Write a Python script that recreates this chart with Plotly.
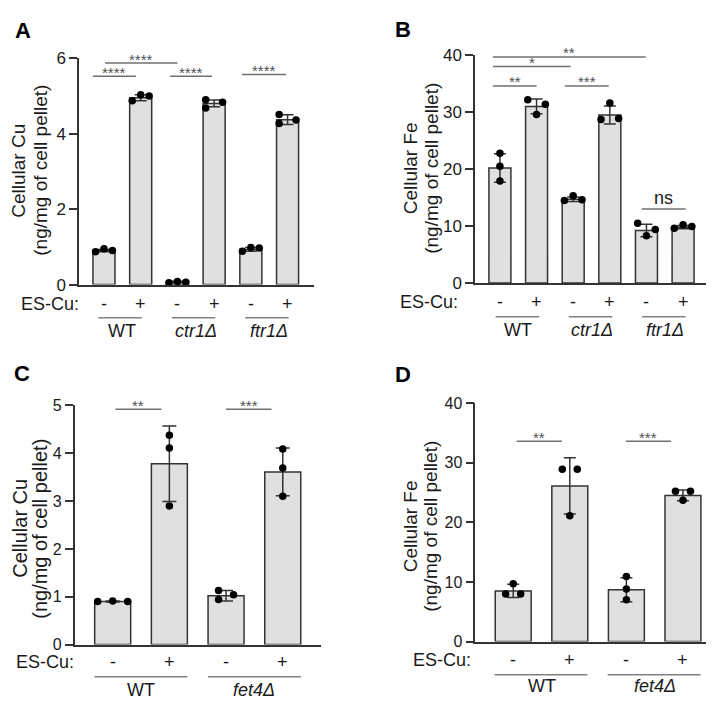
import plotly.graph_objects as go

# ---- data ----
groups_AB = ["WT", "ctr1Δ", "ftr1Δ"]
groups_CD = ["WT", "fet4Δ"]
es_cu = ["-", "+"]

A_means = [0.90, 4.95, 0.07, 4.80, 0.93, 4.37]
A_sd = [0.03, 0.08, 0.02, 0.09, 0.05, 0.13]
A_dots = [[0.87, 0.95, 0.90], [4.87, 5.03, 5.00], [0.05, 0.08, 0.06],
          [4.90, 4.68, 4.83], [0.88, 0.98, 0.97], [4.51, 4.27, 4.36]]

B_means = [20.2, 31.0, 14.7, 29.5, 9.2, 9.8]
B_sd = [2.5, 1.3, 0.4, 1.6, 1.1, 0.3]
B_dots = [[22.8, 20.5, 17.9], [32.2, 29.6, 31.4], [14.5, 15.3, 14.6],
          [31.6, 28.7, 28.9], [10.5, 8.3, 9.4], [9.6, 10.2, 9.9]]

C_means = [0.90, 3.78, 1.02, 3.61]
C_sd = [0.01, 0.79, 0.11, 0.50]
C_dots = [[0.90, 0.91, 0.90], [4.38, 4.11, 2.90], [1.13, 0.94, 1.04], [4.09, 3.69, 3.10]]

D_means = [8.5, 26.1, 8.7, 24.5]
D_sd = [1.1, 4.7, 2.0, 0.9]
D_dots = [[8.0, 9.7, 8.0], [28.9, 28.9, 21.1], [10.9, 8.8, 7.0], [25.2, 25.2, 23.7]]

# significance comparisons: (x from, x to, y, label)
A_sig = [(-0.30, 0.87, 5.52, "****"), (0.03, 2.0, 5.87, "****"),
         (1.80, 2.94, 5.52, "****"), (3.76, 4.96, 5.57, "****")]
B_sig = [(-0.19, 1.0, 34.6, "**"), (1.77, 2.97, 34.6, "***"),
         (-0.19, 1.93, 38.0, "*"), (-0.19, 3.98, 39.7, "**"),
         (3.87, 5.07, 13.0, "ns")]
C_sig = [(0.05, 0.86, 4.92, "**"), (2.0, 2.80, 4.92, "***")]
D_sig = [(0.06, 0.86, 33.6, "**"), (1.99, 2.79, 33.6, "***")]

# ---- styling ----
W, H = 714, 702
FONT = "Liberation Sans, Arial, sans-serif"
DARK = "#333333"
TXT = "#1a1a1a"
BAR_FILL = "#e0e0e0"
SIG_COL = "#707070"


def px(x):
    return x / W


def py(y):
    return 1 - y / H


panels = [
    dict(key="A", means=A_means, sd=A_sd, dots=A_dots, sig=A_sig, groups=groups_AB,
         dom_x=(71, 306), dom_y=(42.3, 275), yr=[0, 6], dtick=2, xr=[-0.68, 5.72],
         bw=0.6, cap=6, jit=0.23,
         offs=[[-1, 0, 1], [-1, 0, 1], [-1, 0, 1], [-1, -1, 1], [-1, 0, 1], [-1, -1, 1]],
         letter=(15, 13.5), title=["Cellular Cu", "(ng/mg of cell pellet)"],
         tx=(11, 33), ty=158, tfs=19, tick=17,
         es_x=73, es_y=295, line_y=309, line_span=(-0.15, 1.03), lab_y=323),
    dict(key="B", means=B_means, sd=B_sd, dots=B_dots, sig=B_sig, groups=groups_AB,
         dom_x=(467, 700), dom_y=(39.3, 273.3), yr=[0, 40], dtick=10, xr=[-0.68, 5.68],
         bw=0.6, cap=6, jit=0.24,
         offs=[[0, 0, 0], [-1, 0, 1], [-1, 0, 1], [0, -1, 1], [-1, 0, 1], [-1, 0, 1]],
         letter=(394.5, 13.3), title=["Cellular Fe", "(ng/mg of cell pellet)"],
         tx=(402.5, 424), ty=156, tfs=19, tick=17,
         es_x=452, es_y=293, line_y=308, line_span=(-0.12, 1.07), lab_y=322),
    dict(key="C", means=C_means, sd=C_sd, dots=C_dots, sig=C_sig, groups=groups_CD,
         dom_x=(66.7, 313.3), dom_y=(399.3, 645), yr=[0, 5], dtick=1, xr=[-0.67, 3.68],
         bw=0.635, cap=7, jit=0.265,
         offs=[[-1, 0, 1], [0, 0, 0], [-0.5, -0.5, 0.5], [0, 0, 0]],
         letter=(14, 366), title=["Cellular Cu", "(ng/mg of cell pellet)"],
         tx=(12, 32), ty=526, tfs=20, tick=16,
         es_x=68, es_y=663, line_y=678, line_span=(-0.32, 1.32), lab_y=692),
    dict(key="D", means=D_means, sd=D_sd, dots=D_dots, sig=D_sig, groups=groups_CD,
         dom_x=(467.3, 714), dom_y=(396.7, 642), yr=[0, 40], dtick=10, xr=[-0.67, 3.69],
         bw=0.635, cap=6, jit=0.265,
         offs=[[-0.5, 0, 0.5], [-0.5, 0.5, 0], [0, 0, 0], [-0.5, 0.5, 0]],
         letter=(394.5, 367), title=["Cellular Fe", "(ng/mg of cell pellet)"],
         tx=(402.5, 423), ty=524, tfs=19, tick=16,
         es_x=465, es_y=661, line_y=676, line_span=(-0.33, 1.31), lab_y=688),
]

fig = go.Figure()
annotations = []
shapes = []

for i, p in enumerate(panels):
    n = i + 1
    xa = "x" if n == 1 else f"x{n}"
    ya = "y" if n == 1 else f"y{n}"
    xs = list(range(len(p["means"])))

    fig.add_trace(go.Bar(
        x=xs, y=p["means"], width=p["bw"], xaxis=xa, yaxis=ya,
        marker=dict(color=BAR_FILL, line=dict(color=DARK, width=1.5)),
        error_y=dict(type="data", array=p["sd"], visible=True, color=DARK,
                     thickness=1.5, width=p["cap"]),
        showlegend=False, hoverinfo="skip",
    ))

    dx, dy = [], []
    for k, vals in enumerate(p["dots"]):
        for j, v in enumerate(vals):
            dx.append(k + p["offs"][k][j] * p["jit"])
            dy.append(v)
    fig.add_trace(go.Scatter(
        x=dx, y=dy, mode="markers", xaxis=xa, yaxis=ya, cliponaxis=False,
        marker=dict(color="black", size=7.5), showlegend=False, hoverinfo="skip",
    ))

    axis_x = dict(domain=[px(p["dom_x"][0]), px(p["dom_x"][1])], range=p["xr"],
                  anchor=ya, showline=True, linecolor=DARK, linewidth=1.5,
                  ticks="", showticklabels=False, showgrid=False, zeroline=False,
                  fixedrange=True)
    axis_y = dict(domain=[py(p["dom_y"][1]), py(p["dom_y"][0])], range=p["yr"],
                  dtick=p["dtick"], anchor=xa, showline=True, linecolor=DARK,
                  linewidth=1.5, ticks="outside", ticklen=8, tickwidth=1.5,
                  tickcolor=DARK, tickfont=dict(size=p["tick"], color=TXT),
                  showgrid=False, zeroline=False, fixedrange=True)
    fig.update_layout({("xaxis" if n == 1 else f"xaxis{n}"): axis_x,
                       ("yaxis" if n == 1 else f"yaxis{n}"): axis_y})

    # significance bars
    for x0, x1, yv, lab in p["sig"]:
        shapes.append(dict(type="line", xref=xa, yref=ya, x0=x0, x1=x1, y0=yv, y1=yv,
                           line=dict(color=SIG_COL, width=1.5)))
        if lab == "ns":
            annotations.append(dict(xref=xa, yref=ya, x=(x0 + x1) / 2, y=yv, text=lab,
                                    showarrow=False, yanchor="bottom", yshift=-1,
                                    font=dict(size=18, color=TXT)))
        else:
            annotations.append(dict(xref=xa, yref=ya, x=(x0 + x1) / 2, y=yv, text=lab,
                                    showarrow=False, yanchor="middle", yshift=4,
                                    font=dict(size=15, color="#505050")))

    # ES-Cu row, group underlines and group labels
    annotations.append(dict(xref="paper", yref="paper", x=px(p["es_x"]), y=py(p["es_y"]),
                            text="ES-Cu:", showarrow=False, xanchor="right",
                            yanchor="middle", font=dict(size=18, color=TXT)))
    for k in xs:
        annotations.append(dict(xref=xa, yref="paper", x=k, y=py(p["es_y"]),
                                text=es_cu[k % 2], showarrow=False, yanchor="middle",
                                font=dict(size=18, color=TXT)))
    for g, name in enumerate(p["groups"]):
        c = 2 * g
        shapes.append(dict(type="line", xref=xa, yref="paper",
                           x0=c + p["line_span"][0], x1=c + p["line_span"][1],
                           y0=py(p["line_y"]), y1=py(p["line_y"]),
                           line=dict(color="#808080", width=1.5)))
        txt = name if name == "WT" else f"<i>{name}</i>"
        annotations.append(dict(xref=xa, yref="paper", x=c + 0.5, y=py(p["lab_y"]),
                                text=txt, showarrow=False, yanchor="middle",
                                font=dict(size=18, color=TXT)))

    # y title (two rotated lines)
    for t, tx in zip(p["title"], p["tx"]):
        annotations.append(dict(xref="paper", yref="paper", x=px(tx), y=py(p["ty"]),
                                text=t, showarrow=False, textangle=-90,
                                xanchor="center", yanchor="middle", borderpad=0,
                                font=dict(size=p["tfs"], color=TXT)))

    # panel letter
    annotations.append(dict(xref="paper", yref="paper", x=px(p["letter"][0]),
                            y=py(p["letter"][1]), text=f"<b>{p['key']}</b>",
                            showarrow=False, xanchor="center", yanchor="middle",
                            font=dict(size=22, color="black")))

fig.update_layout(
    width=W, height=H,
    margin=dict(l=0, r=0, t=0, b=0),
    paper_bgcolor="white", plot_bgcolor="white",
    font=dict(family=FONT, color=TXT),
    annotations=annotations, shapes=shapes,
    barmode="overlay",
)

fig.write_html("out.html")
